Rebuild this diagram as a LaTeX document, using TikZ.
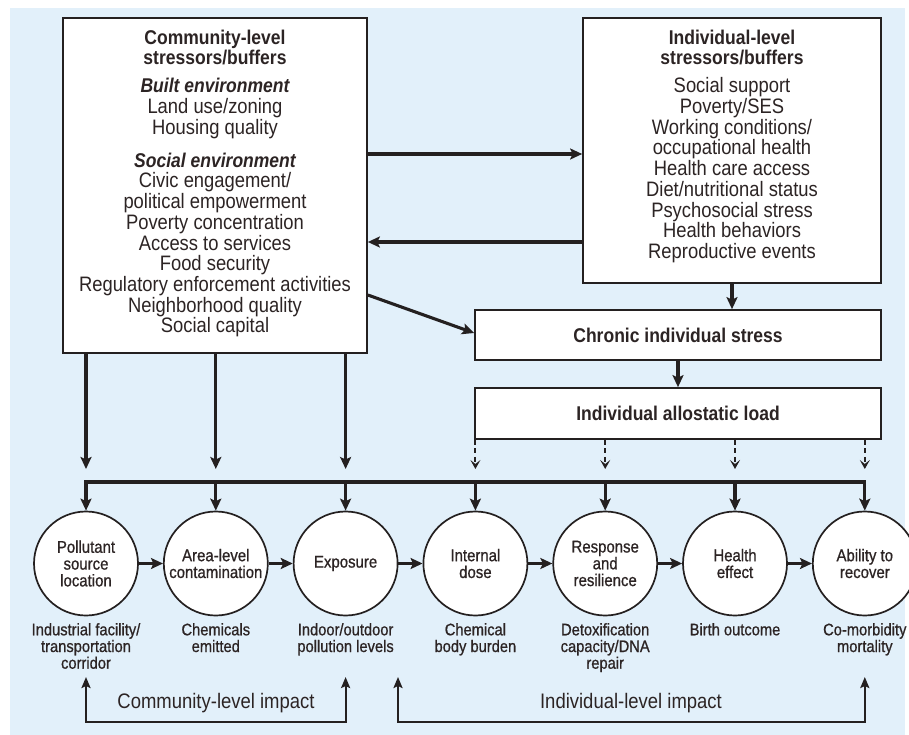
\documentclass[tikz,border=0pt]{standalone}
\usepackage{fontspec}
\setmainfont{Liberation Sans}[FakeStretch=0.88]
\newfontfamily\medfont{Liberation Sans}[FakeStretch=0.88,FakeBold=0.8]
\usetikzlibrary{arrows.meta}
\definecolor{bg}{RGB}{226,240,250}
\definecolor{ink}{RGB}{44,36,36}
\definecolor{linec}{RGB}{36,32,32}
\newcommand\hd[1]{{\fontsize{19.9}{20.7}\selectfont\bfseries #1}}
\begin{document}
\begin{tikzpicture}[x=1pt,y=-1pt,
  boxtxt/.style={font=\fontsize{20.9}{20.7}\selectfont, text=ink, align=center, inner sep=0pt, anchor=north},
  framebox/.style={draw=linec, line width=1.7pt, fill=white, inner sep=0pt},
  circ/.style={circle, draw=linec, line width=1.7pt, fill=white, minimum size=104pt, inner sep=0pt, font=\medfont\fontsize{17}{16.8}\selectfont, text=ink, align=center},
  lab/.style={font=\medfont\fontsize{16.7}{16.7}\selectfont, text=ink, align=center, inner sep=0pt, anchor=north},
  implab/.style={font=\fontsize{21}{20.7}\selectfont, text=ink, inner sep=0pt},
  thickarr/.style={draw=linec, line width=3.1pt, -{Stealth[length=12pt,width=11pt,inset=2.5pt]}},
  thickline/.style={draw=linec, line width=3.1pt, line cap=rect},
  dasharr/.style={draw=linec, line width=2pt, dash pattern=on 5pt off 3.5pt, -{Stealth[length=9pt,width=10pt,inset=4pt]}},
  imparr/.style={draw=linec, line width=2.1pt, {Stealth[length=11pt,width=9pt,inset=2pt]}-{Stealth[length=11pt,width=9pt,inset=2pt]}}
]
\useasboundingbox (0,0) rectangle (909,735);
\fill[bg] (10,8) rectangle (905,735);

% boxes
\node[framebox, minimum width=304pt, minimum height=335pt] (comm) at (215,185.5) {};
\node[framebox, minimum width=298pt, minimum height=265pt] (indiv) at (732,150.5) {};
\node[framebox, minimum width=406pt, minimum height=50pt, text=ink] (chronic) at (678,335) {\hd{Chronic individual stress}};
\node[framebox, minimum width=406pt, minimum height=51pt, text=ink] (allo) at (678,413.5) {\hd{Individual allostatic load}};

\node[boxtxt] (commtxt) at (215,29.5) {\hd{Community-level}\\\hd{stressors/buffers}\\[7.3pt]\hd{\itshape Built environment}\\Land use/zoning\\Housing quality\\[12.3pt]\hd{\itshape Social environment}\\Civic engagement/\\political empowerment\\Poverty concentration\\Access to services\\Food security\\Regulatory enforcement activities\\Neighborhood quality\\Social capital};
\node[boxtxt] (indivtxt) at (732,29.5) {\hd{Individual-level}\\\hd{stressors/buffers}\\[7.3pt]Social support\\Poverty/SES\\Working conditions/\\occupational health\\Health care access\\Diet/nutritional status\\Psychosocial stress\\Health behaviors\\Reproductive events};

% top connectors
\draw[thickarr] (comm.east |- 0,154) -- (indiv.west |- 0,154);
\draw[thickarr] (indiv.west |- 0,242) -- (comm.east |- 0,242);
\draw[thickarr] (comm.east |- 0,295) -- (chronic.west |- 0,333);
\draw[thickarr] (indiv.south) -- (indiv.south |- chronic.north);
\draw[thickarr] (chronic.south) -- (allo.north);

% circles
\node[circ] (c1) at (86,563.5) {Pollutant\\source\\location};
\node[circ] (c2) at (215.8,563.5) {Area-level\\contamination};
\node[circ] (c3) at (345.6,563.5) {Exposure};
\node[circ] (c4) at (475.4,563.5) {Internal\\dose};
\node[circ] (c5) at (605.2,563.5) {Response\\and\\resilience};
\node[circ] (c6) at (735,563.5) {Health\\effect};
\node[circ] (c7) at (864.8,563.5) {Ability to\\recover};

\foreach \a/\b in {c1/c2,c2/c3,c3/c4,c4/c5,c5/c6,c6/c7}
  \draw[thickarr] (\a.east) -- (\b.west);

% labels under circles
\node[lab] (l1) at (86,623) {Industrial facility/\\transportation\\corridor};
\node[lab] (l2) at (215.8,623) {Chemicals\\emitted};
\node[lab] (l3) at (345.6,623) {Indoor/outdoor\\pollution levels};
\node[lab] (l4) at (475.4,623) {Chemical\\body burden};
\node[lab] (l5) at (605.2,623) {Detoxification\\capacity/DNA\\repair};
\node[lab] (l6) at (735,623) {Birth outcome};
\node[lab] (l7) at (864.8,623) {Co-morbidity\\mortality};

% community arrows to bus
\foreach \c in {c1,c2,c3}
  \draw[thickarr] (comm.south -| \c) -- (\c |- 0,469);
% dashed from allostatic load
\foreach \c in {c4,c5,c6,c7}
  \draw[dasharr] (allo.south -| \c) -- (\c |- 0,469);
% bus
\draw[thickline] (c1 |- 0,482) -- (c7 |- 0,482);
\foreach \c in {c1,c2,c3,c4,c5,c6,c7}
  \draw[thickarr] (\c |- 0,481) -- (\c.north);

% impact loops
\coordinate (ib) at (398,677);
\draw[imparr] (c1 |- 0,677) -- (c1 |- 0,722) -- (c3 |- 0,722) -- (c3 |- 0,677);
\draw[imparr] (ib) -- (ib |- 0,722) -- (c7 |- 0,722) -- (c7 |- 0,677);
\node[implab] (ci) at (216,703) {Community-level impact};
\node[implab] (ii) at (631,703) {Individual-level impact};
\end{tikzpicture}
\end{document}
